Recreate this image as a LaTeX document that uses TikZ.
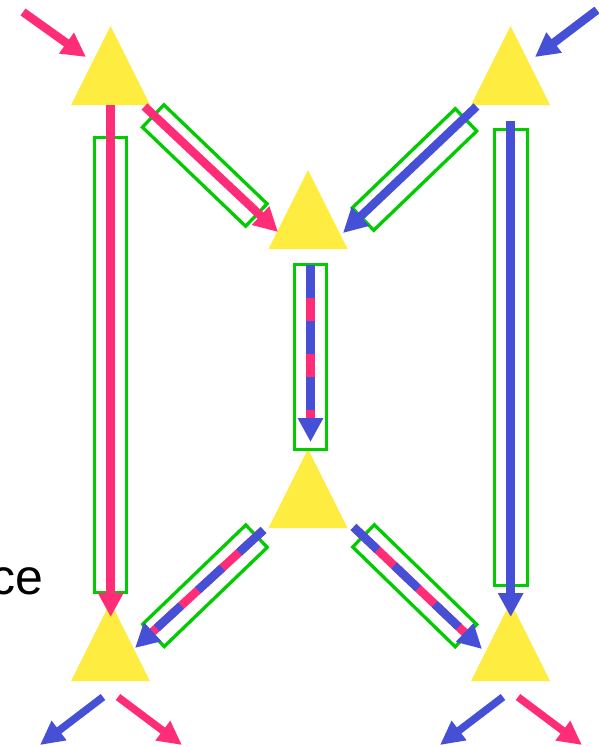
\documentclass[tikz,border=0pt]{standalone}
\usepackage{fontspec}
\setmainfont{Liberation Sans}
\usetikzlibrary{arrows.meta}
\definecolor{pinkc}{RGB}{255,45,120}
\definecolor{bluec}{RGB}{70,80,215}
\definecolor{greenc}{RGB}{0,204,0}
\definecolor{yellowc}{RGB}{255,236,64}
\newcommand\yellowtri[3]{%
  \fill[yellowc] (#2-39.5,#3+79) -- (#2,#3) -- (#2+39.5,#3+79) -- cycle;
  \coordinate (#1) at (#2,#3+40);}
\begin{document}
\begin{tikzpicture}[x=1pt,y=-1pt,
  flowtip/.style={-{Triangle[length=24pt,width=24pt]}},
  pinkflow/.style={draw=pinkc,line width=8.5pt,flowtip},
  blueflow/.style={draw=bluec,line width=8.5pt,flowtip},
  outflow/.style={line width=7.5pt,-{Triangle[length=24pt,width=23pt]}},
  mixflow/.style={draw=pinkc,line width=8.5pt,-{Triangle[length=24pt,width=24pt,color=bluec]}},
  mixdash/.style={draw=bluec,line width=8.5pt,dash pattern=on 33pt off 23pt,shorten >=23pt},
  gbox/.style={draw=greenc,line width=3.3pt,inner sep=0pt,minimum height=31pt}
]
\useasboundingbox (0,0) rectangle (599,747);
\fill[white] (0,0) rectangle (599,747);
% triangles
\yellowtri{TL}{110.5}{26}
\yellowtri{TR}{510.5}{26}
\yellowtri{MT}{308}{170}
\yellowtri{MB}{308}{449}
\yellowtri{BL}{110.5}{602}
\yellowtri{BR}{510.5}{602}
% green boxes
\node[gbox,minimum width=32pt,minimum height=455pt] (gL) at (110.5,365) {};
\node[gbox,minimum width=33pt,minimum height=456pt] (gR) at (511,357.5) {};
\node[gbox,minimum width=32pt,minimum height=185pt] (gM) at (310.5,357) {};
\node[gbox,minimum width=143pt,rotate=-43.8] (gTL) at (204.75,165.5) {};
\node[gbox,minimum width=143pt,rotate=43.9] (gTR) at (414.5,169.5) {};
\node[gbox,minimum width=143pt,rotate=43.9] (gBL) at (205,585.75) {};
\node[gbox,minimum width=143pt,rotate=-44.2] (gBR) at (414.75,585.75) {};
% coordinates
\coordinate (inA) at (23,12);   \coordinate (inAe) at (86,57);
\coordinate (inB) at (597,10);  \coordinate (inBe) at (535,57);
\coordinate (lS) at (110.7,105); \coordinate (lE) at (110.7,617);
\coordinate (rS) at (510.7,121); \coordinate (rE) at (510.7,617);
\coordinate (dTLs) at (144.5,106.5); \coordinate (dTLe) at (278,232);
\coordinate (dTRs) at (476.5,106.5); \coordinate (dTRe) at (343,233);
\coordinate (mS) at (310.5,265); \coordinate (mE) at (310.5,442);
\coordinate (dBLs) at (263.5,530); \coordinate (dBLe) at (135,648);
\coordinate (dBRs) at (353.5,527); \coordinate (dBRe) at (482,649);
\coordinate (oLb) at (103,697); \coordinate (oLbe) at (40,745);
\coordinate (oLp) at (118,697); \coordinate (oLpe) at (182,745);
\coordinate (oRb) at (503,697); \coordinate (oRbe) at (440,745);
\coordinate (oRp) at (518,697); \coordinate (oRpe) at (582,745);
% arrows
\draw[pinkflow] (inA) -- (inAe);
\draw[blueflow] (inB) -- (inBe);
\draw[pinkflow] (lS) -- (lE);
\draw[blueflow] (rS) -- (rE);
\draw[pinkflow] (dTLs) -- (dTLe);
\draw[blueflow] (dTRs) -- (dTRe);
\draw[mixflow] (mS) -- (mE);
\draw[mixdash] (mS) -- (mE);
\draw[mixflow] (dBLs) -- (dBLe);
\draw[mixdash] (dBLs) -- (dBLe);
\draw[mixflow] (dBRs) -- (dBRe);
\draw[mixdash] (dBRs) -- (dBRe);
\draw[outflow,bluec] (oLb) -- (oLbe);
\draw[outflow,pinkc] (oLp) -- (oLpe);
\draw[outflow,bluec] (oRb) -- (oRbe);
\draw[outflow,pinkc] (oRp) -- (oRpe);
% text
\node[anchor=base east,inner sep=0pt,font=\fontsize{50}{58}\selectfont] (txt) at (44,594) {ce};
\end{tikzpicture}
\end{document}
